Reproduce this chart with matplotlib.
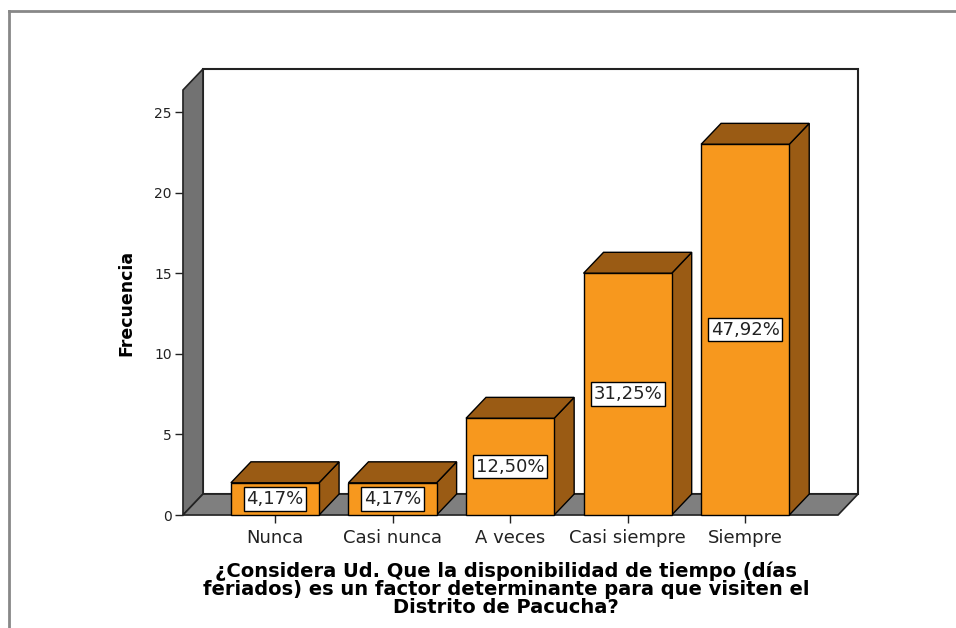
import matplotlib
matplotlib.use("Agg")
import matplotlib.pyplot as plt
from matplotlib.patches import Polygon, Rectangle
from matplotlib.lines import Line2D

plt.rcParams['font.family'] = ['DejaVu Sans']

categories = ['Nunca', 'Casi nunca', 'A veces', 'Casi siempre', 'Siempre']
counts = [2, 2, 6, 15, 23]
yticks = [0, 5, 10, 15, 20, 25]
xlabel = '¿Considera Ud. Que la disponibilidad de tiempo (días\nferiados) es un factor determinante para que visiten el\nDistrito de Pacucha?'
ylabel = 'Frecuencia'

total = sum(counts)
pct_labels = [f'{c / total * 100:.2f}%'.replace('.', ',') for c in counts]

front = '#F7981E'
dark = '#9A5B14'
floor_c = '#7F7F7F'
wall_c = '#727272'

fig = plt.figure(figsize=(9.56, 6.28), dpi=100)
ax = fig.add_axes([0.1914, 0.1799, 0.6852, 0.6768])

xmin, xmax = -0.783, 4.79
ymax = 26.37
dx, dy = 0.17, 1.30
w = 0.75

ax.set_xlim(xmin, xmax)
ax.set_ylim(0, ymax)
for s in ax.spines.values():
    s.set_visible(False)

# back wall, left wall, floor
ax.add_patch(Rectangle((xmin + dx, dy), xmax - xmin, ymax, facecolor='white',
                       edgecolor='#222222', lw=1.5, clip_on=False, zorder=1))
ax.add_patch(Polygon([(xmin, 0), (xmin, ymax), (xmin + dx, ymax + dy), (xmin + dx, dy)],
                     closed=True, facecolor=wall_c, edgecolor='#222222', lw=1.2,
                     clip_on=False, zorder=2))
ax.add_patch(Polygon([(xmin, 0), (xmax, 0), (xmax + dx, dy), (xmin + dx, dy)],
                     closed=True, facecolor=floor_c, edgecolor='#222222', lw=1.2,
                     clip_on=False, zorder=2))

for i, v in enumerate(counts):
    l, r = i - w / 2, i + w / 2
    ax.add_patch(Polygon([(r, 0), (r + dx, dy), (r + dx, v + dy), (r, v)], closed=True,
                         facecolor=dark, edgecolor='black', lw=1, clip_on=False, zorder=3))
    ax.add_patch(Polygon([(l, v), (r, v), (r + dx, v + dy), (l + dx, v + dy)], closed=True,
                         facecolor=dark, edgecolor='black', lw=1, clip_on=False, zorder=3))
    ax.add_patch(Rectangle((l, 0), w, v, facecolor=front, edgecolor='black', lw=1,
                           clip_on=False, zorder=4))
    ax.text(i, v / 2, pct_labels[i], ha='center', va='center', fontsize=13, zorder=5,
            color='#222222',
            bbox=dict(boxstyle='square,pad=0.15', facecolor='white', edgecolor='black', lw=1))

ax.set_xticks(range(len(categories)))
ax.set_xticklabels(categories, fontsize=13, color='#222222')
ax.set_yticks(yticks)
ax.set_yticklabels([str(t) for t in yticks], fontsize=10, color='#222222')
ax.tick_params(axis='both', direction='out', length=6, width=1, color='#222222', pad=2)
ax.tick_params(axis='x', pad=4)

ax.set_xlabel(xlabel, fontsize=14, fontweight='bold', linespacing=0.93)
ax.xaxis.set_label_coords(0.493, -0.11)
ax.xaxis.label.set_va('top')
ax.set_ylabel(ylabel, fontsize=12.5, fontweight='bold')
ax.yaxis.set_label_coords(-0.072, 0.5)

# outer frame (top and left only)
fig.add_artist(Line2D([9 / 956, 1], [1 - 11 / 628, 1 - 11 / 628], transform=fig.transFigure,
                      color='#888888', lw=2))
fig.add_artist(Line2D([9 / 956, 9 / 956], [0, 1 - 11 / 628], transform=fig.transFigure,
                      color='#888888', lw=2))

fig.savefig('out.png', dpi=100)
